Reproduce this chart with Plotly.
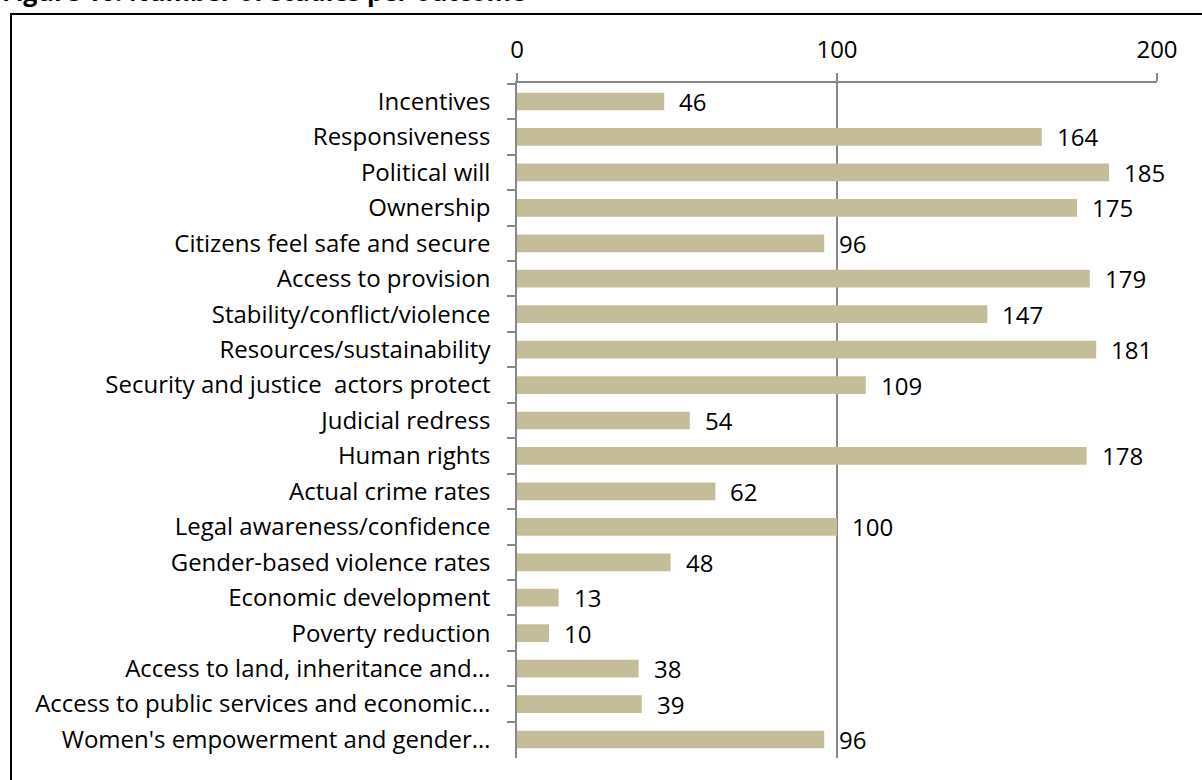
import plotly.graph_objects as go

categories = [
    "Incentives", "Responsiveness", "Political will", "Ownership",
    "Citizens feel safe and secure", "Access to provision",
    "Stability/conflict/violence", "Resources/sustainability",
    "Security and justice  actors protect", "Judicial redress", "Human rights",
    "Actual crime rates", "Legal awareness/confidence",
    "Gender-based violence rates", "Economic development", "Poverty reduction",
    "Access to land, inheritance and\u2026",
    "Access to public services and economic\u2026",
    "Women's empowerment and gender\u2026",
]
values = [46, 164, 185, 175, 96, 179, 147, 181, 109, 54, 178, 62, 100, 48, 13, 10, 38, 39, 96]
tick_vals = [0, 100, 200]
title_text = "Figure 10: Number of studies per outcome"

FONT = "Open Sans"
FS = 24
BAR = "#C5BD99"
AX = "#878787"

fig = go.Figure()
fig.add_trace(go.Bar(
    x=values, y=categories, orientation="h",
    marker=dict(color=BAR, line=dict(width=0)),
    width=0.5, hoverinfo="x+y",
))

for c, v in zip(categories, values):
    fig.add_annotation(x=v, y=c, xref="x", yref="y", text=str(v),
                       showarrow=False, xanchor="left", yanchor="middle",
                       xshift=13, font=dict(family=FONT, size=FS, color="black"))

fig.add_annotation(x=-517 / 640, y=1 + (83 - 10) / 675, xref="paper", yref="paper",
                   text="<b>" + title_text + "</b>",
                   showarrow=False, xanchor="left", yanchor="bottom",
                   font=dict(family=FONT, size=25, color="black"))
# outer border
fig.add_shape(type="rect", xref="paper", yref="paper",
              x0=(11 - 517) / 640, x1=1.2, y0=-0.2, y1=1 + (83 - 14) / 675,
              line=dict(color="black", width=2), fillcolor="rgba(0,0,0,0)", layer="above")

fig.update_layout(
    width=1202, height=780,
    margin=dict(l=517, r=45, t=83, b=22, autoexpand=False),
    paper_bgcolor="white", plot_bgcolor="white",
    showlegend=False, bargap=0.5,
    font=dict(family=FONT, size=FS, color="black"),
    xaxis=dict(side="top", range=[0, 200], tickvals=tick_vals,
               showgrid=True, gridcolor=AX, gridwidth=1.5,
               showline=True, linecolor=AX, linewidth=1.5,
               ticks="outside", ticklen=8, tickcolor=AX, tickwidth=1.5,
               zeroline=False, ticklabelstandoff=6,
               tickfont=dict(family=FONT, size=FS, color="black")),
    yaxis=dict(autorange="reversed", type="category", tickson="boundaries",
               showline=True, linecolor=AX, linewidth=1.5,
               ticks="outside", ticklen=8, tickcolor=AX, tickwidth=1.5,
               showgrid=False, ticklabelstandoff=20,
               tickfont=dict(family=FONT, size=FS, color="black")),
)

fig.write_html("out.html")
